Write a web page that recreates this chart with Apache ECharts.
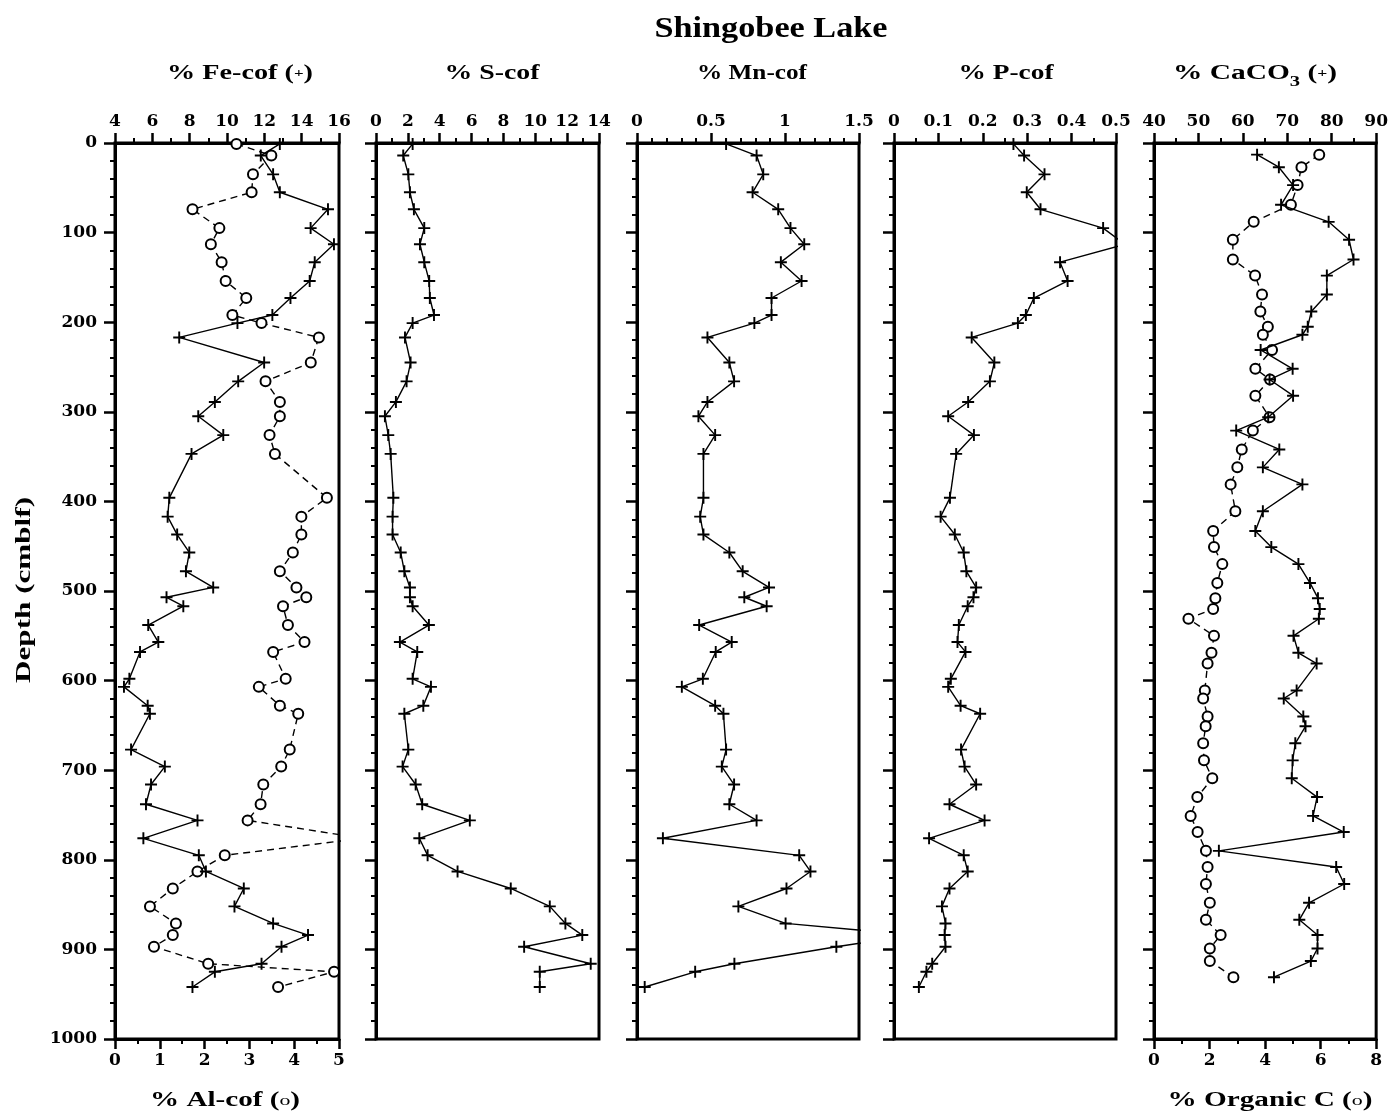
<!DOCTYPE html>
<html>
<head>
<meta charset="utf-8">
<title>Shingobee Lake</title>
<script src="https://cdn.jsdelivr.net/npm/echarts@6.0.0/dist/echarts.min.js"></script>
<style>
html, body { margin: 0; padding: 0; background: #fff; }
#chart { width: 1391px; height: 1117px; }
</style>
</head>
<body>
<div id="chart"></div>
<script>
// ---- Core samples (depth in cm below lake floor) ----
// Samples analysed for Fe, Al, S, Mn and P
const coreDepth = [1, 14, 35, 55, 74, 95, 113, 133, 154, 173, 192, 201, 217, 245, 266, 289, 305, 326, 347, 396,
  417, 437, 457, 478, 496, 507, 517, 538, 557, 568, 598, 607, 628, 637, 677, 696, 716, 738, 756, 776,
  795, 813, 832, 852, 871, 884, 897, 916, 925, 942];

const feCof = [12.83, 11.81, 12.47, 12.83, 15.41, 14.48, 15.73, 14.70, 14.43, 13.40, 12.43, 10.56, 7.44, 11.99, 10.60, 9.35, 8.46, 9.80, 8.10, 6.91,
  6.82, 7.33, 7.98, 7.80, 9.26, 6.76, 7.66, 5.78, 6.32, 5.34, 4.77, 4.48, 5.75, 5.87, 4.86, 6.67, 5.93, 5.66, 8.42, 5.52,
  8.49, 8.87, 10.90, 10.40, 12.47, 14.34, 12.92, 11.85, 9.35, 8.15];

const alCof = [2.71, 3.49, 3.08, 3.05, 1.73, 2.33, 2.14, 2.38, 2.47, 2.93, 2.62, 3.27, 4.55, 4.37, 3.36, 3.68, 3.68, 3.45, 3.57, 4.73,
  4.16, 4.16, 3.97, 3.68, 4.05, 4.27, 3.75, 3.86, 4.23, 3.53, 3.81, 3.21, 3.68, 4.09, 3.90, 3.71, 3.31, 3.25, 2.96, 5.53,
  2.45, 1.84, 1.29, 0.78, 1.36, 1.29, 0.87, 2.08, 4.89, 3.64];

const sCof = [2.30, 1.71, 2.03, 2.13, 2.38, 3.03, 2.76, 3.03, 3.34, 3.38, 3.64, 2.30, 1.82, 2.17, 1.92, 1.25, 0.56, 0.77, 0.92, 1.09,
  1.04, 1.04, 1.55, 1.78, 2.13, 2.13, 2.30, 3.32, 1.50, 2.59, 2.30, 3.45, 2.97, 1.78, 2.03, 1.67, 2.49, 2.90, 5.89, 2.72,
  3.24, 5.12, 8.46, 10.91, 11.89, 12.95, 9.30, 13.48, 10.28, 10.28];

const mnCof = [0.602, 0.808, 0.853, 0.781, 0.954, 1.037, 1.13, 0.972, 1.112, 0.909, 0.909, 0.793, 0.476, 0.624, 0.656, 0.476, 0.415, 0.528, 0.449, 0.449,
  0.427, 0.449, 0.624, 0.714, 0.892, 0.725, 0.876, 0.420, 0.640, 0.532, 0.445, 0.303, 0.528, 0.584, 0.602, 0.573, 0.656, 0.624, 0.808, 0.175,
  1.096, 1.172, 1.01, 0.685, 1.004, 1.88, 1.347, 0.658, 0.393, 0.052];

const pCof = [0.269, 0.293, 0.339, 0.299, 0.330, 0.471, 0.52, 0.374, 0.391, 0.315, 0.297, 0.279, 0.175, 0.226, 0.216, 0.167, 0.122, 0.180, 0.140, 0.126,
  0.105, 0.137, 0.157, 0.163, 0.185, 0.179, 0.166, 0.146, 0.143, 0.161, 0.128, 0.122, 0.150, 0.194, 0.151, 0.159, 0.185, 0.125, 0.204, 0.079,
  0.157, 0.166, 0.125, 0.108, 0.116, 0.114, 0.116, 0.086, 0.073, 0.056];

// Samples analysed for carbonate and organic carbon
const carbDepth = [13, 27, 47, 69, 88, 108, 130, 148, 169, 188, 205, 214, 231, 252, 264, 282, 306, 321, 342, 362,
  381, 411, 433, 451, 470, 491, 508, 520, 531, 550, 569, 581, 611, 620, 640, 651, 670, 689, 709, 730,
  751, 769, 790, 808, 827, 848, 867, 884, 899, 913, 931];

const caco3 = [63.2, 68.1, 71.3, 68.6, 79.3, 83.9, 84.9, 78.9, 78.9, 75.4, 74.6, 73.4, 64.0, 71.2, 66.0, 71.3, 65.7, 58.5, 68.2, 64.5,
  73.4, 64.5, 62.8, 66.4, 72.5, 75.1, 76.9, 77.3, 77.1, 71.4, 72.5, 76.6, 72.1, 69.2, 73.6, 74.1, 71.8, 71.2, 71.0, 76.7,
  75.8, 82.7, 54.6, 81.0, 82.8, 74.9, 72.7, 76.8, 76.8, 75.3, 67.0];

const orgC = [5.95, 5.31, 5.17, 4.93, 3.59, 2.84, 2.84, 3.64, 3.89, 3.83, 4.10, 3.92, 4.25, 3.65, 4.18, 3.65, 4.16, 3.56, 3.16, 3.00,
  2.76, 2.93, 2.13, 2.16, 2.46, 2.28, 2.21, 2.13, 1.24, 2.16, 2.07, 1.93, 1.83, 1.77, 1.93, 1.86, 1.77, 1.80, 2.10, 1.56,
  1.32, 1.57, 1.87, 1.93, 1.87, 2.01, 1.87, 2.40, 2.01, 2.01, 2.86];

// ---- Axis ranges: [min, max, label step, minor divisions] ----
const depthRange = [0, 1000, 100, 5];
const feRange = [4, 16, 2, 2];
const alRange = [0, 5, 1, 2];
const sRange = [0, 14, 2, 2];
const mnRange = [0, 1.5, 0.5, 5];
const pRange = [0, 0.5, 0.1, 2];
const caRange = [40, 90, 10, 2];
const ocRange = [0, 8, 2, 2];

// ---- Layout ----
const FONT = '"DejaVu Serif", "Liberation Serif", serif';
const TITLE_FONT = '"Liberation Serif", "DejaVu Serif", serif';
const panelLeft = [115, 376, 637, 894, 1154];
const panelWidth = [224, 223, 222, 222, 223];
const panelTop = 143;
const panelHeight = 896;

const tickLabel = { color: '#000', fontFamily: FONT, fontWeight: 'bold', fontSize: 17 };

function valueXAxis(gridIndex, range, position) {
  return {
    type: 'value', gridIndex, position,
    min: range[0], max: range[1], interval: range[2],
    axisLine: { show: true, onZero: false, lineStyle: { color: '#000', width: 3 } },
    axisTick: { show: true, inside: false, length: 10, lineStyle: { color: '#000', width: 2.5 } },
    minorTick: { show: true, splitNumber: range[3], length: 5, lineStyle: { color: '#000', width: 2 } },
    axisLabel: Object.assign({ show: true, margin: 13, showMinLabel: true, showMaxLabel: true }, tickLabel),
    splitLine: { show: false }, minorSplitLine: { show: false }
  };
}

function depthAxis(gridIndex) {
  return {
    type: 'value', gridIndex, position: 'left', inverse: true,
    min: depthRange[0], max: depthRange[1], interval: depthRange[2],
    axisLine: { show: true, onZero: false, lineStyle: { color: '#000', width: 3 } },
    axisTick: { show: true, inside: false, length: 11, lineStyle: { color: '#000', width: 2.5 } },
    minorTick: { show: true, splitNumber: depthRange[3], length: 5, lineStyle: { color: '#000', width: 2 } },
    axisLabel: Object.assign({
      show: gridIndex === 0, margin: 18, showMinLabel: true, showMaxLabel: true,
      formatter: (v) => String(Math.round(v))
    }, tickLabel),
    splitLine: { show: false }, minorSplitLine: { show: false }
  };
}

const PLUS = 'path://M4.2,0h1.6v4.2h4.2v1.6h-4.2v4.2h-1.6v-4.2h-4.2v-1.6h4.2z';

function pairs(values, depths) {
  return values.map((v, k) => [v, depths[k]]);
}

function plusSeries(name, xAxisIndex, yAxisIndex, values, depths) {
  return {
    name, type: 'line', xAxisIndex, yAxisIndex, data: pairs(values, depths),
    symbol: PLUS, symbolSize: 12, showAllSymbol: true, clip: true, silent: true,
    lineStyle: { color: '#000', width: 1.4 },
    itemStyle: { color: '#000' },
    z: 4
  };
}

function circleSeries(name, xAxisIndex, yAxisIndex, values, depths) {
  return {
    name, type: 'line', xAxisIndex, yAxisIndex, data: pairs(values, depths),
    symbol: 'emptyCircle', symbolSize: 10, showAllSymbol: true, clip: true, silent: true,
    lineStyle: { color: '#000', width: 1.4, type: [7, 5] },
    itemStyle: { color: '#000', borderColor: '#000', borderWidth: 1.1 },
    z: 3
  };
}

// ---- Text blocks (titles and axis names), stretched to their set widths ----
const measureCtx = document.createElement('canvas').getContext('2d');
function partWidth(p) {
  measureCtx.font = (p.weight || 'bold') + ' ' + p.size + 'px ' + TITLE_FONT;
  return measureCtx.measureText(p.t).width;
}
function textBlock(parts, cx, cy, targetWidth, rotation) {
  const rich = {};
  let text = '';
  let natural = 0;
  parts.forEach((p, k) => {
    const key = 'p' + k;
    rich[key] = {
      fontSize: p.size, fontFamily: TITLE_FONT, fontWeight: p.weight || 'bold',
      lineHeight: p.lh || 30, verticalAlign: p.va || 'middle', fill: '#000', color: '#000'
    };
    text += '{' + key + '|' + p.t + '}';
    natural += partWidth(p);
  });
  return {
    type: 'text', x: cx, y: cy, rotation: rotation || 0, scaleX: targetWidth / natural, silent: true, z: 10,
    style: {
      text, rich, fill: '#000',
      align: 'center', verticalAlign: 'middle', textAlign: 'center', textVerticalAlign: 'middle'
    }
  };
}

const T = 20;
const graphics = [
  textBlock([{ t: 'Shingobee Lake', size: 29 }], 771, 30, 233),
  textBlock([{ t: '% Fe-cof ', size: T }, { t: '(', size: T }, { t: '+', size: 12 }, { t: ')', size: T }], 240, 74, 146),
  textBlock([{ t: '% S-cof', size: T }], 492, 74, 95),
  textBlock([{ t: '% Mn-cof', size: T }], 752, 74, 110),
  textBlock([{ t: '% P-cof', size: T }], 1006, 74, 95),
  textBlock([{ t: '% CaCO', size: T }, { t: '3', size: 14, lh: 14, va: 'bottom' }, { t: ' (', size: T }, { t: '+', size: 12 }, { t: ')', size: T }], 1255, 74, 164),
  textBlock([{ t: '% Al-cof ', size: T }, { t: '(', size: T }, { t: 'o', size: 15, weight: 'normal' }, { t: ')', size: T }], 225, 1101, 150),
  textBlock([{ t: '% Organic C ', size: T }, { t: '(', size: T }, { t: 'o', size: 15, weight: 'normal' }, { t: ')', size: T }], 1270, 1101, 205),
  textBlock([{ t: 'Depth (cmblf)', size: T }], 25, 590, 186, Math.PI / 2)
];

const option = {
  animation: false,
  backgroundColor: '#fff',
  grid: panelLeft.map((left, i) => ({
    left, top: panelTop, width: panelWidth[i], height: panelHeight,
    show: true, borderColor: '#000', borderWidth: 3, backgroundColor: 'transparent'
  })),
  xAxis: [
    valueXAxis(0, feRange, 'top'),     // 0: Fe
    valueXAxis(0, alRange, 'bottom'),  // 1: Al
    valueXAxis(1, sRange, 'top'),      // 2: S
    valueXAxis(2, mnRange, 'top'),     // 3: Mn
    valueXAxis(3, pRange, 'top'),      // 4: P
    valueXAxis(4, caRange, 'top'),     // 5: CaCO3
    valueXAxis(4, ocRange, 'bottom')   // 6: organic C
  ],
  yAxis: [0, 1, 2, 3, 4].map(depthAxis),
  series: [
    circleSeries('Al-cof', 1, 0, alCof, coreDepth),
    plusSeries('Fe-cof', 0, 0, feCof, coreDepth),
    plusSeries('S-cof', 2, 1, sCof, coreDepth),
    plusSeries('Mn-cof', 3, 2, mnCof, coreDepth),
    plusSeries('P-cof', 4, 3, pCof, coreDepth),
    circleSeries('Organic C', 6, 4, orgC, carbDepth),
    plusSeries('CaCO3', 5, 4, caco3, carbDepth)
  ],
  graphic: graphics
};

const chart = echarts.init(document.getElementById('chart'), null, { renderer: 'canvas' });
chart.setOption(option);
</script>
</body>
</html>
